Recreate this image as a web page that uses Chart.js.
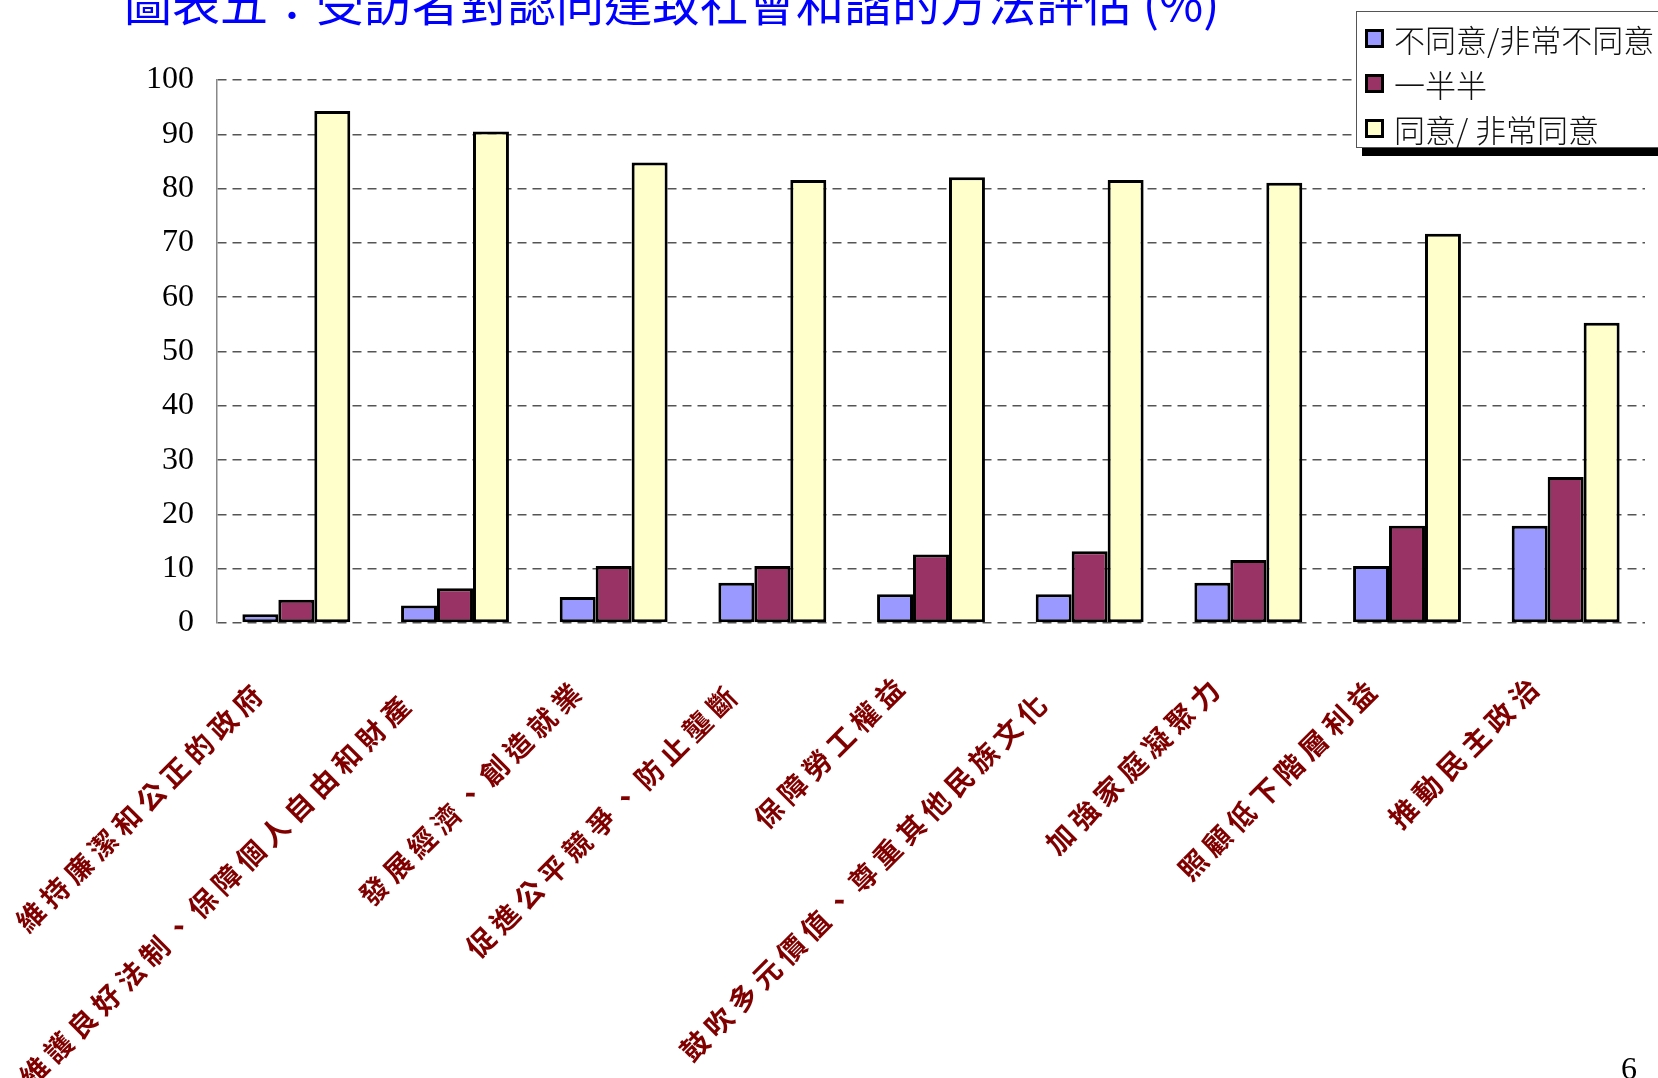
<!DOCTYPE html>
<html>
<head>
<meta charset="utf-8">
<script src="https://cdn.jsdelivr.net/npm/chart.js@4.4.1/dist/chart.umd.min.js"></script>
<style>
  body { margin: 0; background: #fff; overflow: hidden; }
  #wrap { position: relative; width: 1658px; height: 1078px; overflow: hidden; }
  #title {
    position: absolute; left: 124px; top: -24px;
    font: 400 48px/48px "Noto Sans CJK TC", sans-serif;
    color: #0000ff; white-space: nowrap;
  }
  #legend {
    position: absolute; left: 1356px; top: 11px; width: 330px; height: 137px;
    box-sizing: border-box; border: 1px solid #555; background: #fff;
    box-shadow: 6px 8px 0 #000; padding-top: 4px;
  }
  .item {
    display: flex; align-items: center; height: 45px; padding-left: 8px;
    font: 300 31px "Noto Sans CJK TC", sans-serif; color: #111; white-space: nowrap;
  }
  .swatch {
    width: 19px; height: 19px; box-sizing: border-box; border: 3px solid #000;
    margin-right: 10px; flex: none;
  }
  #page {
    position: absolute; left: 1621px; top: 1052px;
    font: 32px/32px "Liberation Serif", serif; color: #000;
  }
</style>
</head>
<body>
<div id="wrap">
  <canvas id="chart" width="1658" height="1078"></canvas>
  <div id="title">圖表五：受訪者對認同達致社會和諧的方法評估 (%)</div>
  <div id="legend"></div>
  <div id="page">6</div>
</div>
<script>
// categories (x axis)
const categories = [
    '維持廉潔和公正的政府',
    '維護良好法制、保障個人自由和財產',
    '發展經濟、創造就業',
    '促進公平競爭、防止壟斷',
    '保障勞工權益',
    '鼓吹多元價值、尊重其他民族文化',
    '加強家庭凝聚力',
    '照顧低下階層利益',
    '推動民主政治'
];

// series names
const seriesNames = ['不同意/非常不同意', '一半半', '同意/ 非常同意'];

// values (%)
const disagree = [1.6, 3.2, 4.8, 7.4, 5.3, 5.3, 7.4, 10.5, 17.9];
const neutral = [4.3, 6.4, 10.5, 10.5, 12.6, 13.2, 11.6, 17.9, 26.9];
const agree = [94.3, 90.5, 84.8, 81.6, 82.1, 81.6, 81.1, 71.7, 55.3];

// y axis ticks
const yTicks = [0, 10, 20, 30, 40, 50, 60, 70, 80, 90, 100];

const colors = ['#9999ff', '#993366', '#ffffcc'];

// html legend
const legendEl = document.getElementById('legend');
seriesNames.forEach((name, i) => {
    const row = document.createElement('div');
    row.className = 'item';
    const sw = document.createElement('span');
    sw.className = 'swatch';
    sw.style.background = colors[i];
    row.appendChild(sw);
    row.appendChild(document.createTextNode(name));
    legendEl.appendChild(row);
});

// rotated category labels, one glyph per cell so the spacing matches
const xLabels = {
    id: 'xLabels',
    afterDraw(chart) {
        const { ctx, chartArea, scales: { x } } = chart;
        const pitch = 34;
        ctx.save();
        ctx.font = 'bold 28px "Noto Sans CJK TC"';
        ctx.fillStyle = '#800000';
        ctx.textAlign = 'center';
        ctx.textBaseline = 'middle';
        categories.forEach((label, i) => {
            const chars = Array.from(label);
            const extra = (chars.length - 6) * 1.8;
            ctx.save();
            ctx.translate(x.getPixelForValue(i) - 30 - extra, chartArea.bottom + 58 + extra);
            ctx.rotate(-Math.PI / 4);
            chars.forEach((c, k) => {
                ctx.fillText(c, -(chars.length - k - 0.5) * pitch, 0);
            });
            ctx.restore();
        });
        ctx.restore();
    }
};

const ctx = document.getElementById('chart').getContext('2d');

new Chart(ctx, {
    type: 'bar',
    data: {
        labels: categories,
        datasets: [disagree, neutral, agree].map((d, i) => ({
            label: seriesNames[i],
            data: d,
            backgroundColor: colors[i],
            borderColor: '#000',
            borderWidth: 3,
            borderSkipped: false,
            categoryPercentage: 0.68,
            barPercentage: 1.0
        }))
    },
    options: {
        responsive: false,
        animation: false,
        layout: { padding: { top: 80, right: 13, left: 0, bottom: 0 } },
        plugins: {
            legend: { display: false },
            tooltip: { enabled: false }
        },
        scales: {
            x: {
                ticks: { display: false },
                grid: { display: false },
                border: { display: false },
                afterFit: scale => { scale.height = 455; }
            },
            y: {
                min: 0,
                max: 100,
                afterBuildTicks: scale => { scale.ticks = yTicks.map(v => ({ value: v })); },
                ticks: {
                    color: '#000',
                    padding: 23,
                    font: { family: 'Liberation Serif', size: 32 }
                },
                grid: { color: '#555', lineWidth: 1.5, drawTicks: false },
                border: { display: true, color: '#888', width: 1.5, dash: [9, 6] },
                afterFit: scale => { scale.width = 217; }
            }
        }
    },
    plugins: [xLabels]
});
</script>
</body>
</html>
